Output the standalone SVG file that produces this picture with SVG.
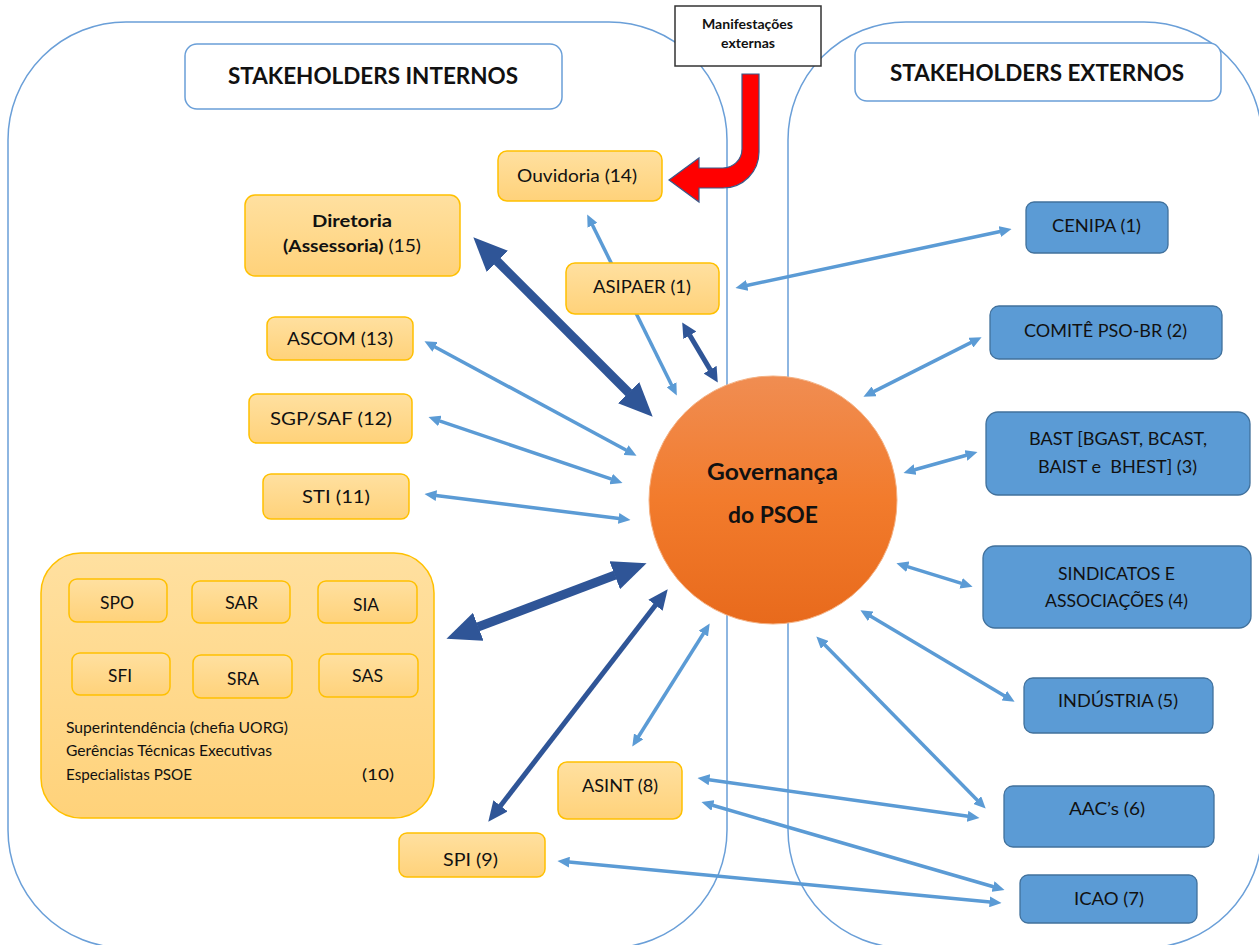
<svg xmlns="http://www.w3.org/2000/svg" width="1259" height="945" viewBox="0 0 1259 945">
<style>
text{font-family:Lato,"Open Sans","Liberation Sans",sans-serif;fill:#111;}
.c{text-anchor:middle;}
.lbl{font-size:17px;}
.b{font-weight:bold;}
.cont{fill:none;stroke:#6A9FD8;stroke-width:1.5;}
.title{fill:#fff;stroke:#6A9FD8;stroke-width:1.5;}
.y{fill:url(#gy);stroke:#FFC000;stroke-width:1.5;}
.bl{fill:#5B9BD5;stroke:#41719C;stroke-width:1.3;}
.la{stroke:#5B9BD5;stroke-width:3.5;fill:none;marker-start:url(#mL);marker-end:url(#mL);}
.da{stroke:#2F5597;fill:none;}
</style>
<defs>
<linearGradient id="gy" x1="0" y1="0" x2="0" y2="1">
<stop offset="0" stop-color="#FFE0A0"/><stop offset="1" stop-color="#FFD27A"/>
</linearGradient>
<linearGradient id="gc" x1="0" y1="0" x2="0" y2="1">
<stop offset="0" stop-color="#F08D52"/><stop offset="0.5" stop-color="#F27B2C"/><stop offset="1" stop-color="#E86A1C"/>
</linearGradient>
<marker id="mL" markerUnits="userSpaceOnUse" markerWidth="12" markerHeight="11" viewBox="0 0 12 11" refX="0.5" refY="5.5" orient="auto-start-reverse"><path d="M0,0 L12,5.5 L0,11 Z" fill="#5B9BD5"/></marker>
<marker id="mD1" markerUnits="userSpaceOnUse" markerWidth="34" markerHeight="30" viewBox="0 0 34 30" refX="0.5" refY="15" orient="auto-start-reverse"><path d="M0,0 L34,15 L0,30 Z" fill="#2F5597"/></marker>
<marker id="mD2" markerUnits="userSpaceOnUse" markerWidth="20" markerHeight="18" viewBox="0 0 20 18" refX="0.5" refY="9" orient="auto-start-reverse"><path d="M0,0 L20,9 L0,18 Z" fill="#2F5597"/></marker>
<marker id="mD3" markerUnits="userSpaceOnUse" markerWidth="15" markerHeight="15" viewBox="0 0 15 15" refX="0.5" refY="7.5" orient="auto-start-reverse"><path d="M0,0 L15,7.5 L0,15 Z" fill="#2F5597"/></marker>
</defs>
<rect width="1259" height="945" fill="#fff"/>

<g id="containers">
<rect class="cont" x="8" y="22" width="719" height="926" rx="118"/>
<rect class="cont" x="788" y="22" width="474" height="926" rx="118"/>
</g>

<g id="title-internos">
<rect class="title" x="185" y="44" width="377" height="65" rx="12"/>
<text class="c b" x="373" y="84" font-size="23" textLength="290" lengthAdjust="spacingAndGlyphs">STAKEHOLDERS INTERNOS</text>
</g>
<g id="title-externos">
<rect class="title" x="855" y="43" width="366" height="58" rx="12"/>
<text class="c b" x="1037" y="81" font-size="23" textLength="294" lengthAdjust="spacingAndGlyphs">STAKEHOLDERS EXTERNOS</text>
</g>

<g id="connectors">
<line class="la" x1="592.3" y1="224.8" x2="671.7" y2="385.2"/>
<line class="la" x1="746.7" y1="285.5" x2="1000.3" y2="231.5"/>
<line class="la" x1="434.6" y1="346.7" x2="626.4" y2="450.3"/>
<line class="la" x1="439.4" y1="420.8" x2="611.6" y2="479.2"/>
<line class="la" x1="435.9" y1="495.5" x2="619.1" y2="518.5"/>
<line class="la" x1="638.4" y1="736.8" x2="703.6" y2="633.2"/>
<line class="la" x1="873.7" y1="391.6" x2="971.3" y2="342.4"/>
<line class="la" x1="914.6" y1="469.8" x2="966.4" y2="455.2"/>
<line class="la" x1="907.4" y1="566.6" x2="961.6" y2="583.4"/>
<line class="la" x1="870.3" y1="616.1" x2="1004.7" y2="695.9"/>
<line class="la" x1="824.4" y1="644.6" x2="977.6" y2="800.4"/>
<line class="la" x1="708.9" y1="779.7" x2="968.1" y2="816.3"/>
<line class="la" x1="712.5" y1="805.3" x2="993.5" y2="886.7" stroke-width="4"/>
<line class="la" x1="568.9" y1="862.1" x2="990.1" y2="901.9" stroke-width="4"/>
<line class="da" x1="497" y1="261" x2="629" y2="393" stroke-width="9" marker-start="url(#mD1)" marker-end="url(#mD1)"/>
<line class="da" x1="477.8" y1="627" x2="615.2" y2="575" stroke-width="9" marker-start="url(#mD1)" marker-end="url(#mD1)"/>
<line class="da" x1="500.2" y1="806.2" x2="655.8" y2="604.8" stroke-width="5" marker-start="url(#mD2)" marker-end="url(#mD2)"/>
<line class="da" x1="689.6" y1="334.9" x2="710.4" y2="370.1" stroke-width="5" marker-start="url(#mD3)" marker-end="url(#mD3)"/>
<path d="M742,74 H759 V152 A36,36 0 0 1 723,188 H699 V202 L669,180 L699,158 V168 H723 A19,19 0 0 0 742,149 Z" fill="#FF0000" stroke="#3A5A8A" stroke-width="1.2"/>
</g>

<g id="manifestacoes">
<rect x="675" y="6" width="146" height="60" fill="#fff" stroke="#333" stroke-width="1.5"/>
<text class="c b" x="747.5" y="29" font-size="13.5" textLength="91" lengthAdjust="spacingAndGlyphs">Manifestações</text>
<text class="c b" x="748" y="48" font-size="13.5" textLength="54" lengthAdjust="spacingAndGlyphs">externas</text>
</g>

<g id="ouvidoria">
<rect class="y" x="498" y="151" width="164" height="50" rx="9"/>
<text class="c lbl" x="577" y="182" textLength="120" lengthAdjust="spacingAndGlyphs">Ouvidoria (14)</text>
</g>
<g id="diretoria">
<rect class="y" x="245" y="195" width="215" height="81" rx="10"/>
<text class="c lbl b" x="352" y="227" textLength="80" lengthAdjust="spacingAndGlyphs">Diretoria</text>
<text class="c lbl" x="352" y="252" textLength="138" lengthAdjust="spacingAndGlyphs"><tspan font-weight="bold">(Assessoria)</tspan> (15)</text>
</g>
<g id="asipaer">
<rect class="y" x="566" y="263" width="153" height="51" rx="9"/>
<text class="c lbl" x="642" y="293" textLength="98" lengthAdjust="spacingAndGlyphs">ASIPAER (1)</text>
</g>
<g id="ascom">
<rect class="y" x="267" y="317" width="146" height="43" rx="8"/>
<text class="c lbl" x="340" y="345" textLength="106" lengthAdjust="spacingAndGlyphs">ASCOM (13)</text>
</g>
<g id="sgp">
<rect class="y" x="249" y="394" width="163" height="49" rx="8"/>
<text class="c lbl" x="331" y="425" textLength="122" lengthAdjust="spacingAndGlyphs">SGP/SAF (12)</text>
</g>
<g id="sti">
<rect class="y" x="263" y="474" width="146" height="45" rx="8"/>
<text class="c lbl" x="336" y="503" textLength="68" lengthAdjust="spacingAndGlyphs">STI (11)</text>
</g>

<g id="superintendencias">
<rect class="y" x="41" y="553" width="393" height="265" rx="40"/>
<rect class="y" x="69" y="579" width="98" height="43" rx="8"/>
<text class="c" x="117" y="609" font-size="18" textLength="34" lengthAdjust="spacingAndGlyphs">SPO</text>
<rect class="y" x="192" y="581" width="98" height="42" rx="8"/>
<text class="c" x="241.5" y="609" font-size="18" textLength="33" lengthAdjust="spacingAndGlyphs">SAR</text>
<rect class="y" x="318" y="581" width="99" height="42" rx="8"/>
<text class="c" x="366" y="611" font-size="18" textLength="26" lengthAdjust="spacingAndGlyphs">SIA</text>
<rect class="y" x="72" y="653" width="98" height="42" rx="8"/>
<text class="c" x="120" y="682" font-size="18" textLength="24" lengthAdjust="spacingAndGlyphs">SFI</text>
<rect class="y" x="193" y="655" width="99" height="43" rx="8"/>
<text class="c" x="243" y="685" font-size="18" textLength="32" lengthAdjust="spacingAndGlyphs">SRA</text>
<rect class="y" x="319" y="654" width="99" height="43" rx="8"/>
<text class="c" x="367.5" y="682" font-size="18" textLength="31" lengthAdjust="spacingAndGlyphs">SAS</text>
<text x="66" y="733" font-size="15" textLength="222" lengthAdjust="spacingAndGlyphs">Superintendência (chefia UORG)</text>
<text x="66" y="756" font-size="15" textLength="206" lengthAdjust="spacingAndGlyphs">Gerências Técnicas Executivas</text>
<text x="66" y="780" font-size="15" textLength="126" lengthAdjust="spacingAndGlyphs">Especialistas PSOE</text>
<text x="362" y="780" font-size="15" textLength="32" lengthAdjust="spacingAndGlyphs">(10)</text>
</g>

<g id="asint">
<rect class="y" x="558" y="762" width="124" height="57" rx="9"/>
<text class="c lbl" x="620" y="792" textLength="76" lengthAdjust="spacingAndGlyphs">ASINT (8)</text>
</g>
<g id="spi">
<rect class="y" x="399" y="833" width="146" height="44" rx="8"/>
<text class="c lbl" x="470.5" y="866" textLength="55" lengthAdjust="spacingAndGlyphs">SPI (9)</text>
</g>

<g id="cenipa">
<rect class="bl" x="1026" y="202" width="142" height="51" rx="8"/>
<text class="c lbl" x="1096.5" y="232" textLength="89" lengthAdjust="spacingAndGlyphs">CENIPA (1)</text>
</g>
<g id="comite">
<rect class="bl" x="990" y="306" width="232" height="53" rx="9"/>
<text class="c lbl" x="1105.5" y="337" textLength="163" lengthAdjust="spacingAndGlyphs">COMITÊ PSO-BR (2)</text>
</g>
<g id="bast">
<rect class="bl" x="986" y="412" width="264" height="83" rx="12"/>
<text class="c lbl" x="1118" y="445" textLength="178" lengthAdjust="spacingAndGlyphs">BAST [BGAST, BCAST,</text>
<text class="c lbl" x="1117.5" y="473" xml:space="preserve" textLength="159" lengthAdjust="spacingAndGlyphs">BAIST e  BHEST] (3)</text>
</g>
<g id="sindicatos">
<rect class="bl" x="983" y="546" width="268" height="82" rx="12"/>
<text class="c lbl" x="1116.5" y="580" textLength="117" lengthAdjust="spacingAndGlyphs">SINDICATOS E</text>
<text class="c lbl" x="1116.5" y="607" textLength="143" lengthAdjust="spacingAndGlyphs">ASSOCIAÇÕES (4)</text>
</g>
<g id="industria">
<rect class="bl" x="1024" y="678" width="189" height="55" rx="9"/>
<text class="c lbl" x="1118" y="707" textLength="120" lengthAdjust="spacingAndGlyphs">INDÚSTRIA (5)</text>
</g>
<g id="aac">
<rect class="bl" x="1004" y="786" width="210" height="61" rx="9"/>
<text class="c lbl" x="1107" y="815" textLength="76" lengthAdjust="spacingAndGlyphs">AAC’s (6)</text>
</g>
<g id="icao">
<rect class="bl" x="1020" y="875" width="177" height="48" rx="8"/>
<text class="c lbl" x="1109" y="905" textLength="70" lengthAdjust="spacingAndGlyphs">ICAO (7)</text>
</g>

<g id="governanca">
<circle cx="773" cy="500" r="124" fill="url(#gc)" stroke="#F4B183" stroke-width="1"/>
<text class="c b" x="772.5" y="480" font-size="22" textLength="131" lengthAdjust="spacingAndGlyphs">Governança</text>
<text class="c b" x="773" y="523" font-size="22" textLength="90" lengthAdjust="spacingAndGlyphs">do PSOE</text>
</g>
</svg>
